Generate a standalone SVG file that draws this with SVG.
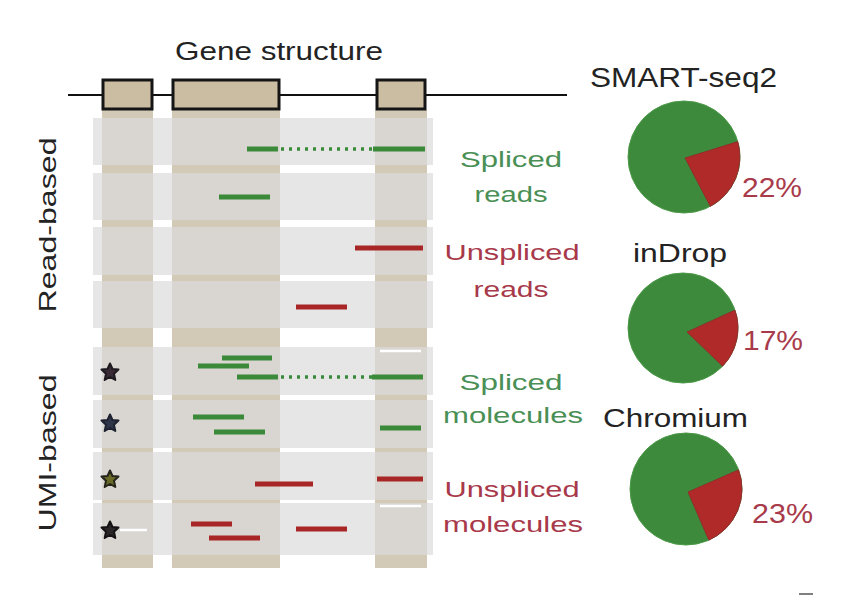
<svg xmlns="http://www.w3.org/2000/svg" width="850" height="606" viewBox="0 0 850 606">
<style>
text{font-family:"Liberation Sans",Arial,sans-serif;}
.dark{fill:#232323;}
.gl{fill:#4a8f55;}
.rl{fill:#a8394a;}
.pct{fill:#a83a4a;font-size:28px;}
.lab{font-size:22px;text-anchor:middle;}
.col{fill:#d2c9b7;}
.row{fill:#dcdcdb;opacity:0.7;}
.exon{fill:#cbbda2;stroke:#151515;stroke-width:3;}
.g{stroke:#3a8a3a;stroke-width:5;fill:none;}
.r{stroke:#a82626;stroke-width:5;fill:none;}
.gd{stroke:#3a8a3a;stroke-width:3.5;stroke-dasharray:3 5;fill:none;}
.wl{stroke:#ffffff;stroke-width:2.5;}
.pg{fill:#3e8a3c;stroke:#4c9a48;stroke-width:1;}
.pr{fill:#b02a2a;stroke:#8e2a2a;stroke-width:0.8;}
</style>
<defs>
<polygon id="star" points="0,-8.5 2.5,-3 8.5,-2.5 4,1.8 5.3,8 0,5 -5.3,8 -4,1.8 -8.5,-2.5 -2.5,-3" stroke-linejoin="round" stroke-width="2"/>
</defs>

<g id="background">
<rect class="col" x="102" y="110" width="51" height="458"/>
<rect class="col" x="172" y="110" width="108" height="458"/>
<rect class="col" x="375" y="110" width="52" height="458"/>
<rect class="row" x="93" y="118" width="340" height="47"/>
<rect class="row" x="93" y="173" width="340" height="47"/>
<rect class="row" x="93" y="227" width="340" height="48"/>
<rect class="row" x="93" y="281" width="340" height="47"/>
<rect class="row" x="93" y="347" width="340" height="48"/>
<rect class="row" x="93" y="400" width="340" height="48"/>
<rect class="row" x="93" y="452" width="340" height="48"/>
<rect class="row" x="93" y="503" width="340" height="52"/>
</g>

<g id="gene-structure">
<text class="dark" x="175" y="60" font-size="25" textLength="208" lengthAdjust="spacingAndGlyphs">Gene structure</text>
<line x1="68" y1="95" x2="567" y2="95" stroke="#111" stroke-width="2"/>
<rect class="exon" x="103" y="80" width="49" height="29"/>
<rect class="exon" x="173" y="80" width="106" height="29"/>
<rect class="exon" x="377" y="80" width="48" height="29"/>
</g>

<g id="connectors">
<line class="g" x1="247" y1="149" x2="278" y2="149" stroke-width="3.5"/>
<line class="gd" x1="281" y1="149" x2="373" y2="149"/>
<line class="g" x1="373" y1="149" x2="425" y2="149" stroke-width="3.5"/>
<line class="g" x1="219" y1="197" x2="270" y2="197"/>
<line class="r" x1="355" y1="248" x2="423" y2="248"/>
<line class="r" x1="296" y1="307" x2="347" y2="307"/>
<line class="wl" x1="380" y1="351" x2="421" y2="351"/>
<line class="g" x1="222" y1="358" x2="272" y2="358"/>
<line class="g" x1="198" y1="366" x2="249" y2="366"/>
<line class="g" x1="237" y1="377" x2="278" y2="377" stroke-width="3.5"/>
<line class="gd" x1="281" y1="377" x2="372" y2="377"/>
<line class="g" x1="372" y1="377" x2="423" y2="377" stroke-width="3.5"/>
<line class="g" x1="193" y1="417" x2="244" y2="417"/>
<line class="g" x1="214" y1="432" x2="265" y2="432"/>
<line class="g" x1="380" y1="428" x2="421" y2="428" stroke-width="3.5"/>
<line class="r" x1="255" y1="484" x2="313" y2="484" stroke-width="4"/>
<line class="r" x1="377" y1="479" x2="423" y2="479"/>
<line class="wl" x1="380" y1="506" x2="421" y2="506"/>
<line class="r" x1="191" y1="524" x2="232" y2="524"/>
<line class="r" x1="209" y1="538" x2="260" y2="538" stroke-width="4"/>
<line class="r" x1="296" y1="529" x2="347" y2="529" stroke-width="6"/>
<line class="wl" x1="120" y1="530" x2="147" y2="530"/>
<use href="#star" x="110" y="372" fill="#3a2a36" stroke="#1e1a1e"/>
<use href="#star" x="110" y="423" fill="#2f3548" stroke="#1e2230"/>
<use href="#star" x="110" y="479" fill="#6a6a28" stroke="#24241a"/>
<use href="#star" x="110" y="530" fill="#2a2628" stroke="#141214"/>
</g>

<g id="side-labels">
<text class="dark" transform="translate(56,225) rotate(-90)" text-anchor="middle" font-size="24" textLength="175" lengthAdjust="spacingAndGlyphs">Read-based</text>
<text class="dark" transform="translate(56,453) rotate(-90)" text-anchor="middle" font-size="24" textLength="157" lengthAdjust="spacingAndGlyphs">UMI-based</text>
</g>

<g id="label-spliced-reads">
<text class="lab gl" x="511" y="167" textLength="102" lengthAdjust="spacingAndGlyphs">Spliced</text>
<text class="lab gl" x="511" y="202" textLength="73" lengthAdjust="spacingAndGlyphs">reads</text>
</g>
<g id="label-unspliced-reads">
<text class="lab rl" x="512" y="260" textLength="135" lengthAdjust="spacingAndGlyphs">Unspliced</text>
<text class="lab rl" x="511" y="297" textLength="75" lengthAdjust="spacingAndGlyphs">reads</text>
</g>
<g id="label-spliced-molecules">
<text class="lab gl" x="511" y="390" textLength="103" lengthAdjust="spacingAndGlyphs">Spliced</text>
<text class="lab gl" x="513" y="423" textLength="140" lengthAdjust="spacingAndGlyphs">molecules</text>
</g>
<g id="label-unspliced-molecules">
<text class="lab rl" x="512" y="497" textLength="135" lengthAdjust="spacingAndGlyphs">Unspliced</text>
<text class="lab rl" x="513" y="532" textLength="140" lengthAdjust="spacingAndGlyphs">molecules</text>
</g>

<g id="pie-smartseq2">
<text class="dark" x="590" y="87" font-size="27" textLength="187" lengthAdjust="spacingAndGlyphs">SMART-seq2</text>
<circle class="pg" cx="684" cy="157" r="56"/>
<path class="pr" d="M685,158 L737.8,141.6 A56,56 0 0 1 710.3,206.4 Z"/>
<text class="pct" x="742" y="197" textLength="60" lengthAdjust="spacingAndGlyphs">22%</text>
</g>

<g id="pie-indrop">
<text class="dark" x="633" y="262" font-size="26" textLength="94" lengthAdjust="spacingAndGlyphs">inDrop</text>
<circle class="pg" cx="683" cy="328" r="55"/>
<path class="pr" d="M687,332 L735.0,310.1 A55,55 0 0 1 722.6,366.2 Z"/>
<text class="pct" x="743" y="350" textLength="60" lengthAdjust="spacingAndGlyphs">17%</text>
</g>

<g id="pie-chromium">
<text class="dark" x="603" y="427" font-size="26" textLength="145" lengthAdjust="spacingAndGlyphs">Chromium</text>
<circle class="pg" cx="686" cy="489" r="56"/>
<path class="pr" d="M688,492 L738.6,469.8 A56,56 0 0 1 708.8,540.2 Z"/>
<text class="pct" x="752" y="523" textLength="61" lengthAdjust="spacingAndGlyphs">23%</text>
</g>

<line x1="799" y1="594" x2="813" y2="594" stroke="#555" stroke-width="1.5"/>
</svg>
